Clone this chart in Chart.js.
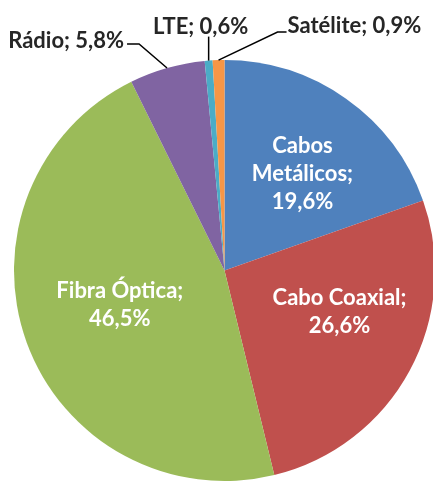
<!DOCTYPE html>
<html>
<head>
<meta charset="utf-8">
<script src="https://cdn.jsdelivr.net/npm/chart.js@4/dist/chart.umd.min.js"></script>
<style>
html, body { margin: 0; padding: 0; background: #fff; overflow: hidden; }
#wrap { width: 437px; height: 482px; position: relative; }
</style>
</head>
<body>
<div id="wrap"><canvas id="myChart"></canvas></div>
<script>
// data
const categories = ['Cabos Metálicos', 'Cabo Coaxial', 'Fibra Óptica', 'Rádio', 'LTE', 'Satélite']
const shares = [19.6, 26.6, 46.5, 5.8, 0.6, 0.9]
const colors = ['#4F81BD', '#C0504D', '#9BBB59', '#8064A2', '#4BACC6', '#F79646']

// how each label is drawn: lines of the name, place, and a nudge
const labelLines = [['Cabos', 'Metálicos;'], ['Cabo Coaxial;'], ['Fibra Óptica;'], ['Rádio;'], ['LTE;'], ['Satélite;']]
const labelSetup = [
	{ inside: true, dx: 5, dy: 7 },
	{ inside: true, dx: 4, dy: -19 },
	{ inside: true, dx: 14, dy: -9 },
	{ inside: false, elbow: [-28, -24], end: [-40, -24], text: [-43, -27], align: 'right' },
	{ inside: false, elbow: [0, -24], end: [0, -24], text: [-8, -34], align: 'center' },
	{ inside: false, elbow: [59, -28], end: [68, -28], text: [69, -34], align: 'left' }
]

const fmt = v => v.toFixed(1).replace('.', ',') + '%'
const FONT = 'bold 22px Lato'

const pieLabels = {
	id: 'pieLabels',
	afterDatasetsDraw(chart) {
		const ctx = chart.ctx
		const meta = chart.getDatasetMeta(0)
		meta.data.forEach((arc, i) => {
			const p = arc.getProps(['x', 'y', 'startAngle', 'endAngle', 'outerRadius'], true)
			const mid = (p.startAngle + p.endAngle) / 2
			const set = labelSetup[i]
			ctx.save()
			ctx.font = FONT
			ctx.textBaseline = 'middle'
			if (set.inside) {
				const lines = labelLines[i].concat([fmt(shares[i])])
				const cx = p.x + Math.cos(mid) * p.outerRadius * 0.6 + set.dx
				const cy = p.y + Math.sin(mid) * p.outerRadius * 0.6 + set.dy
				const lh = 28
				ctx.fillStyle = '#fff'
				ctx.textAlign = 'center'
				lines.forEach((t, k) => {
					ctx.fillText(t, cx, cy + (k - (lines.length - 1) / 2) * lh)
				})
			} else {
				const ex = p.x + Math.cos(mid) * p.outerRadius
				const ey = p.y + Math.sin(mid) * p.outerRadius
				ctx.strokeStyle = '#000'
				ctx.lineWidth = 1.5
				ctx.beginPath()
				ctx.moveTo(ex, ey)
				ctx.lineTo(ex + set.elbow[0], ey + set.elbow[1])
				ctx.lineTo(ex + set.end[0], ey + set.end[1])
				ctx.stroke()
				ctx.fillStyle = '#262626'
				ctx.textAlign = set.align
				ctx.fillText(labelLines[i][0] + ' ' + fmt(shares[i]), ex + set.text[0], ey + set.text[1])
			}
			ctx.restore()
		})
	}
}

let ctx = document.getElementById('myChart').getContext('2d')

let myPieChart = new Chart(ctx, {
	type: 'pie',
	data: {
		labels: categories,
		datasets: [{
			data: shares,
			backgroundColor: colors,
			borderWidth: 0,
			hoverOffset: 0
		}]
	},
	options: {
		responsive: true,
		maintainAspectRatio: false,
		animation: false,
		layout: { padding: { left: 14, top: 60, right: 2, bottom: 1 } },
		plugins: {
			legend: { display: false },
			tooltip: { enabled: false }
		}
	},
	plugins: [pieLabels]
})
</script>
</body>
</html>
